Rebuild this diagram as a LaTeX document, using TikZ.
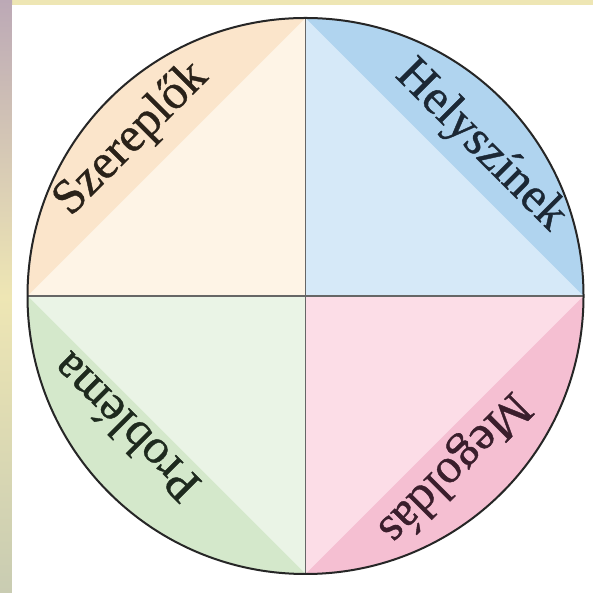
\documentclass[tikz,border=0pt]{standalone}
\usepackage{fontspec}
\setmainfont{Liberation Serif}
\newfontfamily\lblfont[FakeBold=0.8]{Liberation Serif}
\definecolor{bgyel}{HTML}{EEE6B4}
\definecolor{bgtop}{HTML}{BCA9B6}
\definecolor{bgbot}{HTML}{C9CCB2}
\definecolor{tlL}{HTML}{FEF4E6}
\definecolor{tlD}{HTML}{FBE5CB}
\definecolor{trL}{HTML}{D6E9F8}
\definecolor{trD}{HTML}{B0D4EF}
\definecolor{blL}{HTML}{EAF4E6}
\definecolor{blD}{HTML}{D4E8CB}
\definecolor{brL}{HTML}{FCDDE7}
\definecolor{brD}{HTML}{F5BFD2}
\definecolor{txtA}{HTML}{2A2219}
\definecolor{txtB}{HTML}{1C2835}
\definecolor{txtC}{HTML}{1E2A1E}
\definecolor{txtD}{HTML}{3A1E2C}
\begin{document}
\begin{tikzpicture}[x=1pt,y=1pt,
  lbl/.style={font=\lblfont\fontsize{49}{49}\selectfont, inner sep=0pt},
  divline/.style={draw=black!60, line width=1.4pt},
  rim/.style={draw=black!85, line width=2pt}]
\useasboundingbox (0,0) rectangle (593,593);
% background
\fill[bgyel] (0,0) rectangle (593,593);
\shade[top color=bgtop, bottom color=bgbot, middle color=bgyel] (0,0) rectangle (12,593);
\fill[white] (12,0) rectangle (593,588);
% geometry
\coordinate (c) at (305.5,297);
\coordinate (N) at (305.5,575);
\coordinate (S) at (305.5,19);
\coordinate (E) at (583.5,297);
\coordinate (W) at (27.5,297);
% quadrants
\fill[tlL] (c) -- (W) arc[start angle=180,end angle=90,radius=278] -- cycle;
\fill[trL] (c) -- (N) arc[start angle=90,end angle=0,radius=278] -- cycle;
\fill[brL] (c) -- (E) arc[start angle=0,end angle=-90,radius=278] -- cycle;
\fill[blL] (c) -- (S) arc[start angle=-90,end angle=-180,radius=278] -- cycle;
% darker segments
\fill[tlD] (W) arc[start angle=180,end angle=90,radius=278] -- cycle;
\fill[trD] (N) arc[start angle=90,end angle=0,radius=278] -- cycle;
\fill[brD] (E) arc[start angle=0,end angle=-90,radius=278] -- cycle;
\fill[blD] (S) arc[start angle=-90,end angle=-180,radius=278] -- cycle;
% dividers and rim
\draw[divline] (N) -- (S);
\draw[divline] (W) -- (E);
\draw[rim] (c) circle[radius=278];
% labels
\node[lbl, text=txtA, rotate=45]  (szer) at (131.6,453.6) {Szereplők};
\node[lbl, text=txtB, rotate=-45] (hely) at (480.5,447) {Helyszínek};
\node[lbl, text=txtC, rotate=135] (prob) at (125,165) {Probléma};
\node[lbl, text=txtD, rotate=225] (mego) at (453,126) {Megoldás};
\end{tikzpicture}
\end{document}
